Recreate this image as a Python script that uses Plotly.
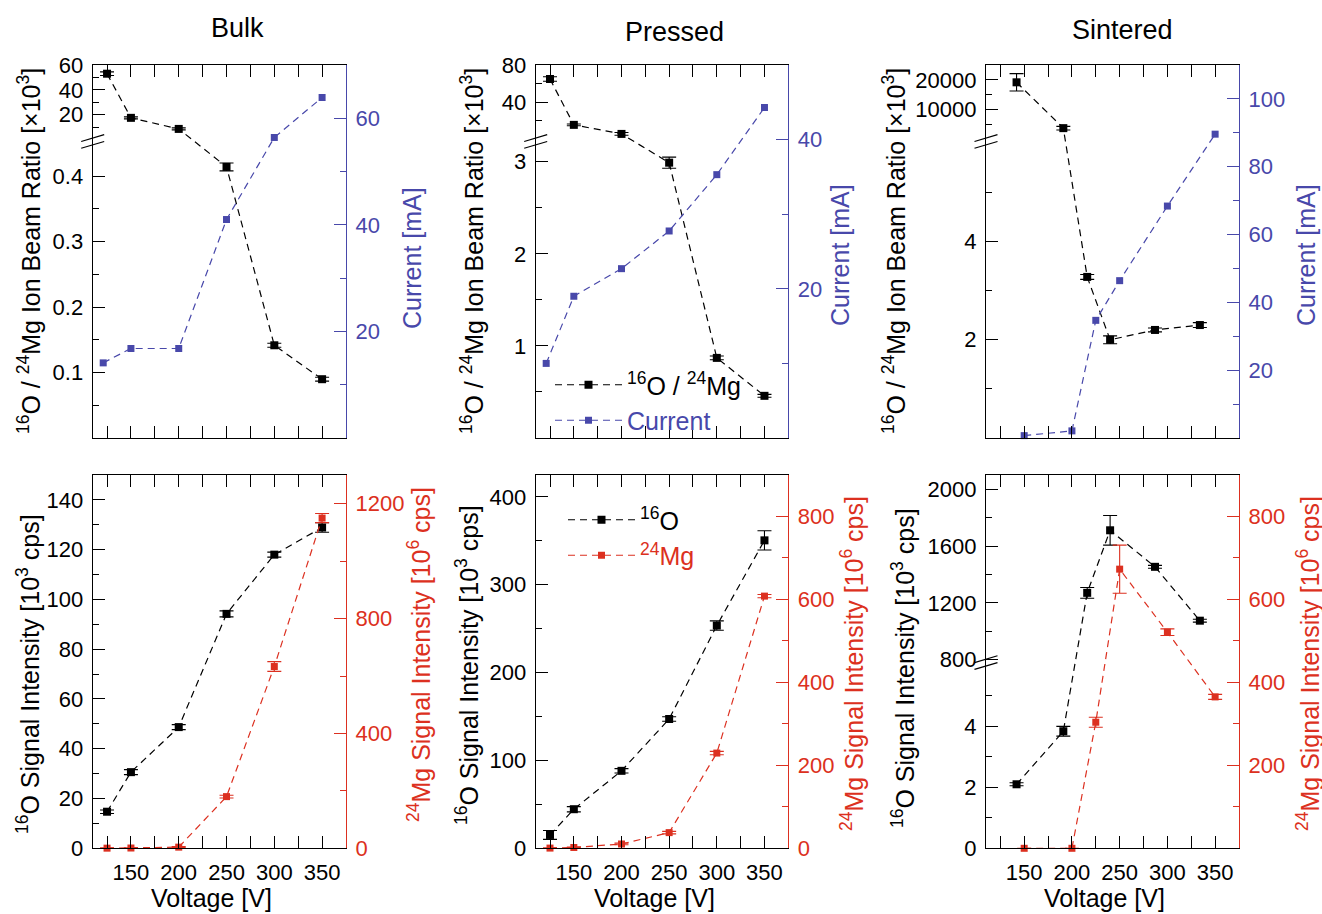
import plotly.graph_objects as go

W, H = 1322, 914

# ------------------------------------------------------------------ data
# top row: 16O/24Mg ion beam ratio (broken axis) + current
bulk_ratio_v = [125, 150, 200, 250, 300, 350]
bulk_ratio = [53, 17.5, 8.6, 0.414, 0.1416, 0.0898]
bulk_ratio_err = [1.5, 0.8, 0.8, 0.006, 0.003, 0.003]
bulk_cur_v = [121, 150, 200, 250, 300, 350]
bulk_cur = [14.1, 16.8, 16.8, 41.0, 56.4, 63.9]

pressed_ratio_v = [125, 150, 200, 250, 300, 350]
pressed_ratio = [65, 15.8, 6.1, 2.99, 0.87, 0.458]
pressed_ratio_err = [2.4, 1.0, 1.5, 0.06, 0.02, 0.016]
pressed_cur_v = [121, 150, 200, 250, 300, 350]
pressed_cur = [10.0, 19.0, 22.7, 27.75, 35.3, 44.3]

sint_ratio_v = [142, 191, 216, 240, 287, 334]
sint_ratio = [19200, 3840, 3.28, 2.0, 2.2, 2.3]
sint_ratio_err = [2900, 600, 0.05, 0.08, 0.04, 0.05]
sint_cur_v = [150, 200, 225, 250, 300, 350]
sint_cur = [0.7, 2.1, 34.7, 46.4, 68.4, 89.6]

# bottom row: 16O and 24Mg signal intensity
bulk_sig_v = [125, 150, 200, 250, 300, 350]
bulk_o = [14.7, 30.6, 48.7, 94.2, 118.0, 128.9]
bulk_o_err = [0.7, 1.0, 1.0, 1.2, 1.0, 1.9]
bulk_mg = [0.5, 1, 4, 180, 633, 1150]
bulk_mg_err = [1, 1, 2, 5, 17, 16]

pressed_sig_v = [125, 150, 200, 250, 300, 350]
pressed_o = [15.2, 44.5, 88.2, 147.2, 253.6, 350.6]
pressed_o_err = [5, 3, 2.5, 2.5, 5.3, 11]
pressed_mg = [0.5, 2, 10.4, 37.8, 229.6, 608]
pressed_mg_err = [1, 1, 2, 3, 4, 4]

sint_o_v = [142, 191, 216, 240, 287, 334]
sint_o = [2.1, 3.84, 1271, 1711, 1454, 1075]
sint_o_err = [0.05, 0.16, 38, 104, 10, 10]
sint_mg_v = [150, 200, 225, 250, 300, 350]
sint_mg = [0, 0, 304, 673, 521, 365]
sint_mg_err = [0, 0, 12, 58, 8, 6]

# broken-axis segments: (value_lo, value_hi, frac_lo, frac_hi)
bulk_ratio_segs = [(0, 0.45, 0.0, 0.79), (0, 60, 0.80, 1.0)]
pressed_ratio_segs = [(0, 3.2, 0.0, 0.79), (0, 80, 0.80, 1.0)]
sint_ratio_segs = [(0, 6, 0.0, 0.79), (0, 25000, 0.80, 1.0)]
sint_o_segs = [(0, 6, 0.0, 0.49), (800, 2100, 0.505, 1.0)]

# tick values
bulk_ratio_ticks = [0.1, 0.2, 0.3, 0.4, 20, 40, 60]
bulk_ratio_ticktext = ["0.1", "0.2", "0.3", "0.4", "20", "40", "60"]
bulk_ratio_minor = [0.05, 0.15, 0.25, 0.35, 10, 30, 50]
pressed_ratio_ticks = [1, 2, 3, 40, 80]
pressed_ratio_ticktext = ["1", "2", "3", "40", "80"]
pressed_ratio_minor = [0.5, 1.5, 2.5, 20, 60]
sint_ratio_ticks = [2, 4, 10000, 20000]
sint_ratio_ticktext = ["2", "4", "10000", "20000"]
sint_ratio_minor = [1, 3, 5, 5000, 15000]
sint_o_ticks = [0, 2, 4, 800, 1200, 1600, 2000]
sint_o_ticktext = ["0", "2", "4", "800", "1200", "1600", "2000"]
sint_o_minor = [1, 3, 5, 1000, 1400, 1800]

bulk_cur_ticks = [20, 40, 60]
bulk_cur_minor = [10, 30, 50]
pressed_cur_ticks = [20, 40]
pressed_cur_minor = [10, 30]
sint_cur_ticks = [20, 40, 60, 80, 100]
sint_cur_minor = [10, 30, 50, 70, 90]
bulk_o_ticks = [0, 20, 40, 60, 80, 100, 120, 140]
bulk_o_minor = [10, 30, 50, 70, 90, 110, 130]
pressed_o_ticks = [0, 100, 200, 300, 400]
pressed_o_minor = [50, 150, 250, 350]
bulk_mg_ticks = [0, 400, 800, 1200]
bulk_mg_minor = [200, 600, 1000]
pressed_mg_ticks = [0, 200, 400, 600, 800]
pressed_mg_minor = [100, 300, 500, 700]
sint_mg_ticks = [200, 400, 600, 800]
sint_mg_minor = [100, 300, 500, 700]

panel_titles = ["Bulk", "Pressed", "Sintered"]

# ------------------------------------------------------------------ style
FONT = "Liberation Sans, Arial, Helvetica, sans-serif"
BLACK = "black"
BLUE = "#4848AA"
RED = "#DC3020"
DASH = "7px,5px"
TICKF = 22
TITLEF = 25

XD = [(92.7, 346.0), (535.7, 788.3), (986.0, 1239.0)]
YD = [(65.0, 438.0), (475.0, 848.3)]


def seg_of(v, segs):
    lo, hi = segs
    return lo if v <= lo[1] else hi


def seg_map(v, segs):
    s = seg_of(v, segs)
    return s[2] + (v - s[0]) * (s[3] - s[2]) / (s[1] - s[0])


def seg_err(v, e, segs):
    s = seg_of(v, segs)
    return e * (s[3] - s[2]) / (s[1] - s[0])


def xdom(c):
    return [XD[c][0] / W, XD[c][1] / W]


def ydom(r):
    return [1 - YD[r][1] / H, 1 - YD[r][0] / H]


fig = go.Figure()


def add(p, right, x, y, err, color, msize, name=None, legend=None, segs=None):
    if segs is not None:
        yy = [seg_map(v, segs) for v in y]
        ee = [seg_err(v, e, segs) for v, e in zip(y, err)]
    else:
        yy = y
        ee = err
    tr = dict(
        x=x, y=yy, mode="lines+markers",
        line=dict(color=color, width=1.2, dash=DASH),
        marker=dict(symbol="square", size=msize, color=color),
        xaxis="x%d" % p,
        yaxis="y%d" % (p + 6 if right else p),
        cliponaxis=False,
        showlegend=name is not None,
        name=name if name else "",
    )
    if ee is not None:
        tr["error_y"] = dict(type="data", array=ee, visible=True, color=color,
                             thickness=1.1, width=7)
    if legend:
        tr["legend"] = legend
    fig.add_trace(go.Scatter(**tr))


# top row
add(1, False, bulk_ratio_v, bulk_ratio, bulk_ratio_err, BLACK, 8, segs=bulk_ratio_segs)
add(1, True, bulk_cur_v, bulk_cur, None, BLUE, 7)
add(2, False, pressed_ratio_v, pressed_ratio, pressed_ratio_err, BLACK, 8,
    name="<sup>16</sup>O / <sup>24</sup>Mg", legend="legend", segs=pressed_ratio_segs)
add(2, True, pressed_cur_v, pressed_cur, None, BLUE, 7,
    name='<span style="color:%s">Current</span>' % BLUE, legend="legend")
add(3, False, sint_ratio_v, sint_ratio, sint_ratio_err, BLACK, 8, segs=sint_ratio_segs)
add(3, True, sint_cur_v, sint_cur, None, BLUE, 7)
# bottom row
add(4, False, bulk_sig_v, bulk_o, bulk_o_err, BLACK, 8)
add(4, True, bulk_sig_v, bulk_mg, bulk_mg_err, RED, 7)
add(5, False, pressed_sig_v, pressed_o, pressed_o_err, BLACK, 8,
    name="<sup>16</sup>O", legend="legend2")
add(5, True, pressed_sig_v, pressed_mg, pressed_mg_err, RED, 7,
    name='<span style="color:%s"><sup>24</sup>Mg</span>' % RED, legend="legend2")
add(6, False, sint_o_v, sint_o, sint_o_err, BLACK, 8, segs=sint_o_segs)
add(6, True, sint_mg_v, sint_mg, sint_mg_err, RED, 7)

layout = dict(
    template="none",
    width=W, height=H, autosize=False,
    margin=dict(l=0, r=0, t=0, b=0, pad=0, autoexpand=False),
    paper_bgcolor="white", plot_bgcolor="rgba(0,0,0,0)",
    font=dict(family=FONT, color=BLACK, size=TICKF),
    legend=dict(x=550 / W, y=1 - 362 / H, xanchor="left", yanchor="top",
                font=dict(size=25, family=FONT), bgcolor="rgba(0,0,0,0)",
                itemwidth=67, traceorder="normal"),
    legend2=dict(x=563 / W, y=1 - 497 / H, xanchor="left", yanchor="top",
                 font=dict(size=25, family=FONT), bgcolor="rgba(0,0,0,0)",
                 itemwidth=67, traceorder="normal"),
)


def axis_common(color):
    return dict(showline=True, linecolor=color, linewidth=1.2, ticks="inside",
                ticklen=12, tickwidth=1.2, tickcolor=color, showgrid=False,
                zeroline=False, automargin=False,
                tickfont=dict(size=TICKF, color=color, family=FONT))


left_cfg = {
    1: dict(segs=bulk_ratio_segs, tv=bulk_ratio_ticks, tt=bulk_ratio_ticktext, mv=bulk_ratio_minor),
    2: dict(segs=pressed_ratio_segs, tv=pressed_ratio_ticks, tt=pressed_ratio_ticktext, mv=pressed_ratio_minor),
    3: dict(segs=sint_ratio_segs, tv=sint_ratio_ticks, tt=sint_ratio_ticktext, mv=sint_ratio_minor),
    4: dict(rng=[0, 150], tv=bulk_o_ticks, mv=bulk_o_minor),
    5: dict(rng=[0, 425], tv=pressed_o_ticks, mv=pressed_o_minor),
    6: dict(segs=sint_o_segs, tv=sint_o_ticks, tt=sint_o_ticktext, mv=sint_o_minor),
}
right_cfg = {
    1: dict(rng=[0, 70], tv=bulk_cur_ticks, mv=bulk_cur_minor, color=BLUE),
    2: dict(rng=[0, 50], tv=pressed_cur_ticks, mv=pressed_cur_minor, color=BLUE),
    3: dict(rng=[0, 110], tv=sint_cur_ticks, mv=sint_cur_minor, color=BLUE),
    4: dict(rng=[0, 1300], tv=bulk_mg_ticks, mv=bulk_mg_minor, color=RED),
    5: dict(rng=[0, 900], tv=pressed_mg_ticks, mv=pressed_mg_minor, color=RED),
    6: dict(rng=[0, 900], tv=sint_mg_ticks, mv=sint_mg_minor, color=RED),
}

shapes = []
for p in range(1, 7):
    r = 0 if p <= 3 else 1
    c = (p - 1) % 3
    xa = axis_common(BLACK)
    xa.update(domain=xdom(c), range=[110, 375], anchor="y%d" % p, mirror="allticks",
              tick0=0, dtick=50, showticklabels=(r == 1), ticklabelstandoff=4,
              minor=dict(dtick=25, ticks="inside", ticklen=6, tickcolor=BLACK, tickwidth=1.2))
    layout["xaxis%d" % p if p > 1 else "xaxis"] = xa

    lc = left_cfg[p]
    ya = axis_common(BLACK)
    if "segs" in lc:
        segs = lc["segs"]
        ya.update(range=[0, 1], tickmode="array",
                  tickvals=[seg_map(v, segs) for v in lc["tv"]], ticktext=lc["tt"],
                  minor=dict(tickmode="array", tickvals=[seg_map(v, segs) for v in lc["mv"]],
                             ticks="inside", ticklen=6, tickcolor=BLACK, tickwidth=1.2))
        # break marks
        bu = (segs[0][3] + segs[1][2]) / 2
        y0p, y1p = YD[r]
        py = y1p - bu * (y1p - y0p)
        px = XD[c][0]
        for off in (3.4, -3.4):
            shapes.append(dict(type="line", xref="paper", yref="paper",
                               x0=(px - 11.5) / W, x1=(px + 11.5) / W,
                               y0=1 - (py - off + 3.4) / H, y1=1 - (py - off - 3.4) / H,
                               line=dict(color=BLACK, width=1.2)))
    else:
        ya.update(range=lc["rng"], tickmode="array", tickvals=lc["tv"],
                  minor=dict(tickmode="array", tickvals=lc["mv"], ticks="inside",
                             ticklen=6, tickcolor=BLACK, tickwidth=1.2))
    ya.update(domain=ydom(r), anchor="x%d" % p, side="left", ticklabelstandoff=4)
    layout["yaxis%d" % p if p > 1 else "yaxis"] = ya

    rc = right_cfg[p]
    yr = axis_common(rc["color"])
    yr.update(range=rc["rng"], tickmode="array", tickvals=rc["tv"],
              overlaying="y%d" % p if p > 1 else "y", anchor="x%d" % p, side="right",
              ticklabelstandoff=4,
              minor=dict(tickmode="array", tickvals=rc["mv"], ticks="inside",
                         ticklen=6, tickcolor=rc["color"], tickwidth=1.2))
    layout["yaxis%d" % (p + 6)] = yr

layout["shapes"] = shapes

ann = []


def text(x, y, s, size=TITLEF, color=BLACK, angle=0):
    ann.append(dict(x=x / W, y=1 - y / H, xref="paper", yref="paper", text=s,
                    showarrow=False, xanchor="center", yanchor="middle",
                    textangle=angle, font=dict(size=size, color=color, family=FONT)))


for c, (tx, ty) in enumerate([(237, 28), (674, 32), (1122, 30)]):
    text(tx, ty, panel_titles[c], size=27)

ratio_title = "<sup>16</sup>O / <sup>24</sup>Mg Ion Beam Ratio [×10<sup>3</sup>]"
o_title = "<sup>16</sup>O Signal Intensity [10<sup>3</sup> cps]"
mg_title = "<sup>24</sup>Mg Signal Intensity [10<sup>6</sup> cps]"
cur_title = "Current [mA]"
for x, y in [(29, 251), (472, 251), (894, 251)]:
    text(x, y, ratio_title, angle=-90)
for x, y in [(412, 258), (840, 255), (1306, 255)]:
    text(x, y, cur_title, color=BLUE, angle=-90)
for x, y in [(28, 674), (467, 665), (903, 668)]:
    text(x, y, o_title, angle=-90)
for x, y in [(419, 655), (852, 664), (1308, 664)]:
    text(x, y, mg_title, color=RED, angle=-90)
for x in [211, 654, 1104]:
    text(x, 898, "Voltage [V]")

layout["annotations"] = ann
fig.update_layout(**layout)
fig.write_html("out.html", config={"displayModeBar": False},
               post_script="document.body.style.margin='0px';")
